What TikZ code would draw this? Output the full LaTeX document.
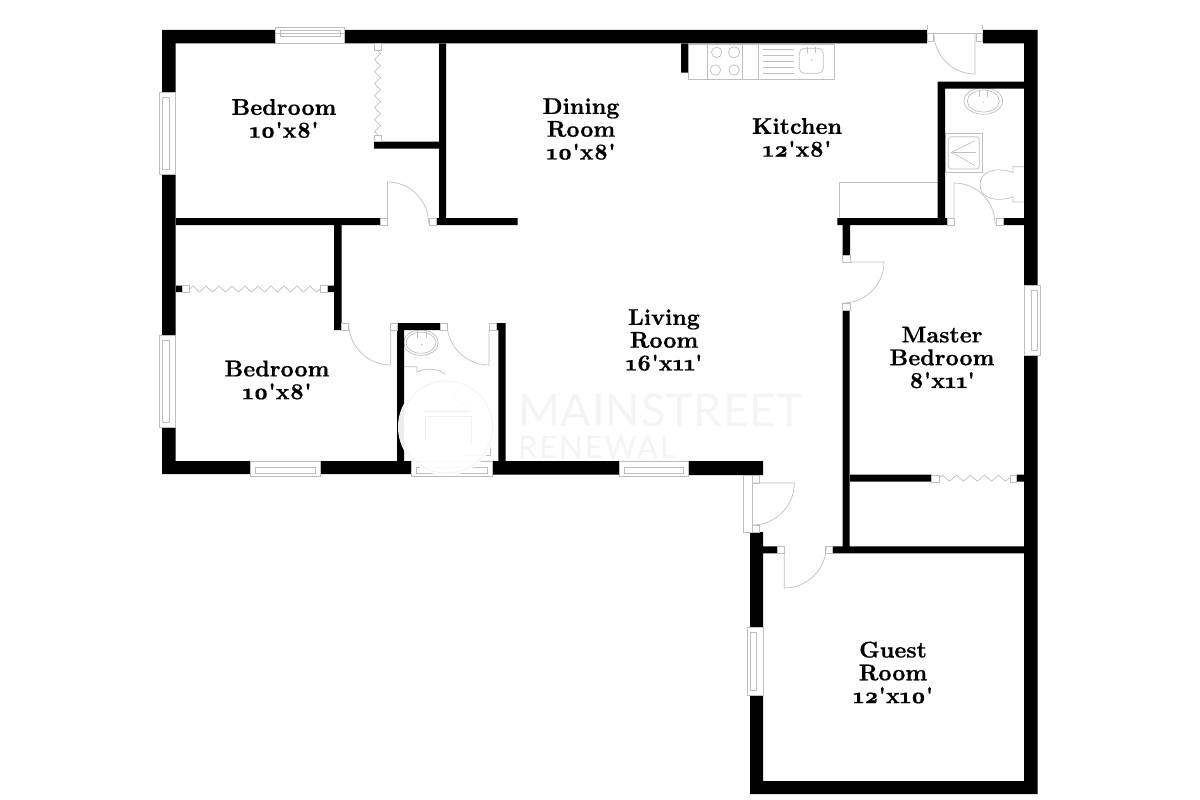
\documentclass[tikz,border=0pt]{standalone}
\usepackage{fontspec}
\usetikzlibrary{decorations.pathmorphing}
\newfontfamily\planfont{lmroman10-regular.otf}[BoldFont=lmroman10-bold.otf,BoldFeatures={FakeBold=0.6},Numbers=OldStyle]
\newfontfamily\brandfont{Lato}[LetterSpace=2]
\newfontfamily\brandwidefont{Lato}[LetterSpace=6]
\tikzset{
  wall/.style={fill=black},
  fixture/.style={draw=gray!50,line width=0.7pt},
  opening/.style={fixture,fill=white},
  foldingdoor/.style={fixture,decorate,decoration={zigzag,amplitude=3pt,segment length=#1}},
  roomlabel/.style={font=\planfont\bfseries\fontsize{22.8}{22.8}\selectfont,align=center,text=black,inner sep=0pt},
  brandmark/.style={text=gray!9,inner sep=0pt,anchor=west}
}
\begin{document}
\begin{tikzpicture}[x=1pt,y=-1pt]
      \useasboundingbox (0,0) rectangle (1200,800);
      \fill[white] (0,0) rectangle (1200,800);
      \begin{scope}[fixture]
        \draw (688,44) rectangle (834,79);
        \draw (707.3,44) -- (707.3,79);
        \draw (742.7,44) -- (742.7,79);
        \draw (758.7,44) -- (758.7,79);
        \draw (716.7,52.3) circle (5.2);
        \draw (734,52.3) circle (5.6);
        \draw (715.5,70) circle (5.2);
        \draw (734,70) circle (5.2);
        \draw (763,49) -- (794,49);
        \draw (763,55) -- (794,55);
        \draw (763,61) -- (794,61);
        \draw (763,67) -- (794,67);
        \draw (763,73) -- (794,73);
        \draw[rounded corners=5] (799.3,48.3) rectangle (823.3,73.3);
        \draw (807.3,46.7) -- (807.3,53);
        \draw (815,46.7) -- (815,53);
        \fill[gray!50] (811.7,60) circle (0.8);
        \draw (839,218) -- (839,182.7) -- (937.7,182.7);
        \draw (983.3,101) ellipse [x radius=19.3,y radius=13.3];
        \draw (983.3,101) ellipse [x radius=16,y radius=11];
        \draw (979.3,90) -- (979.3,97);
        \draw (987.3,90) -- (987.3,97);
        \fill[gray!50] (983.3,102.3) circle (0.8);
        \draw (945,133.3) rectangle (982.7,172.3);
        \draw[rounded corners=3] (948.3,136.7) rectangle (979.3,169);
        \draw (952.7,152.3) circle (1.2);
        \draw (954,151) -- (975,140.7);
        \draw (954,152.3) -- (976,152.3);
        \draw (954,153.6) -- (975,165.7);
        \draw (1024,166.7) -- (1013,166.7) -- (1013,172.5) .. controls (994,166) and (980,172) .. (980,185) .. controls (980,197) and (994,203) .. (1013,197) -- (1013,202) -- (1024,202);
        \draw (421,342.7) ellipse [x radius=17.3,y radius=12.7];
        \draw (421,342.7) ellipse [x radius=15,y radius=10.5];
        \draw (417.7,331) -- (417.7,338);
        \draw (426,331) -- (426,338);
        \fill[gray!50] (421.7,344.7) circle (0.8);
        \draw (404,366.7) -- (417,366.7) -- (417,372) .. controls (425,368) and (437,368) .. (445,374);
        \draw (465,455) -- (490,455) -- (490,447);
        \draw (452,395) -- (470,411);
      \end{scope}
      \fill[wall]
        (162,30) rectangle (275,43.5)
        (344,30) rectangle (927,43.5)
        (983,30) rectangle (1037.5,43.5)
        (162,30) rectangle (175.7,92)
        (162,174) rectangle (175.7,335)
        (162,427) rectangle (175.7,474)
        (162,461) rectangle (250,474)
        (320,461) rectangle (411,474)
        (492,461) rectangle (619,474.5)
        (688,461) rectangle (763,475)
        (1024,30) rectangle (1037.5,285)
        (1024,355) rectangle (1037.5,794)
        (750,781) rectangle (1037.5,794)
        (750,532) rectangle (763,627)
        (750,695) rectangle (763,794)
        (176,218) rectangle (380.7,225)
        (436.7,218) rectangle (517.7,225)
        (439,44) rectangle (446,225)
        (374,141.7) rectangle (439,148.7)
        (334,225) rectangle (341.7,330)
        (176,285.7) rectangle (182.7,292)
        (327,285.7) rectangle (334,292)
        (397,323) rectangle (440,330)
        (397,323) rectangle (404,461)
        (496,323) rectangle (505.7,330)
        (498.3,323) rectangle (505.7,461)
        (681,44) rectangle (688,72.7)
        (937.7,81.7) rectangle (1024,88.7)
        (937.7,82) rectangle (945,225)
        (837.3,218) rectangle (947.3,225)
        (1003,218) rectangle (1024,225)
        (842.7,225) rectangle (850,255)
        (842.7,310.7) rectangle (849.7,553)
        (850,474.7) rectangle (931.7,481.7)
        (1016.7,474.7) rectangle (1024,481.7)
        (832.7,546.3) rectangle (1024,553.3)
        (763,546.3) rectangle (777,553.3);
      \begin{scope}[opening]
        \draw (275,27.3) rectangle (344,43.5);
        \draw (280,30.7) rectangle (340,36.7);
        \draw (344,33.7) -- (275,33.7);
        \draw (159.3,92) rectangle (175.7,174);
        \draw (162.7,97) rectangle (169,169);
        \draw (159.3,335) rectangle (175.7,427);
        \draw (162.7,340) rectangle (169,422);
        \draw (250,461) rectangle (320,476.7);
        \draw (255,467.3) rectangle (315,473.3);
        \draw (411,461) rectangle (492,476.7);
        \draw (416,467.3) rectangle (487,473.3);
        \draw (619,461) rectangle (688,476.7);
        \draw (624,467.3) rectangle (683,473.3);
        \draw (1024,285) rectangle (1040,355);
        \draw (1031,290) rectangle (1037,350);
        \draw (747,627) rectangle (763,695);
        \draw (750,632) rectangle (756,690);
      \end{scope}
      \begin{scope}[fixture]
        \draw (927,25) -- (927,30);
        \draw (982.7,25) -- (982.7,30);
        \draw (933,33) -- (976,33);
        \draw (975,33) -- (975,74) arc[start angle=90,end angle=180,radius=41];
        \draw (387.5,218) -- (387.5,182) arc[start angle=-90,end angle=0,radius=41];
        \draw (390.7,330) -- (390.7,365) arc[start angle=90,end angle=180,radius=42];
        \draw (489,330) -- (489,365) arc[start angle=90,end angle=180,radius=42];
        \draw (850,262) -- (884,262) arc[start angle=0,end angle=90,radius=41];
        \draw (954,218) -- (954,183) arc[start angle=-90,end angle=0,radius=41];
        \draw (743.3,475.7) rectangle (752.3,532.3);
        \draw (752.3,483) -- (794.3,483) arc[start angle=0,end angle=90,radius=42];
        \draw (784.3,553) -- (784.3,588) arc[start angle=90,end angle=0,radius=42];
        \draw[foldingdoor=12] (377.5,50.7) -- (377.5,135);
        \draw[foldingdoor=13] (189.7,289) -- (320.7,289);
        \draw[foldingdoor=14] (939,478.2) -- (1010,478.2);
      \end{scope}
      \begin{scope}[opening]
        \draw (927,33) rectangle (933,41);
        \draw (976,33) rectangle (982.7,41);
        \draw (380.7,218) rectangle (387.7,225);
        \draw (429,218) rectangle (436.7,225);
        \draw (341.7,323) rectangle (348.7,330);
        \draw (390.7,323) rectangle (397.3,330);
        \draw (440,323) rectangle (447.3,330);
        \draw (489,323) rectangle (496,330);
        \draw (842.7,255) rectangle (850,262.3);
        \draw (842.7,303.3) rectangle (850,310.7);
        \draw (947.3,218) rectangle (954,225);
        \draw (996,218) rectangle (1003,225);
        \draw (752.3,475.7) rectangle (759.7,483.3);
        \draw (752.3,525) rectangle (759.7,532.3);
        \draw (777,546) rectangle (784.3,553.3);
        \draw (825.7,546) rectangle (832.7,553.3);
        \draw (374,43.7) rectangle (381,50.7);
        \draw (374,135) rectangle (381,141.7);
        \draw (182.7,285.7) rectangle (189.7,292);
        \draw (320.7,285.7) rectangle (327,292);
        \draw (931.7,475) rectangle (939,482);
        \draw (1010,475) rectangle (1016.7,482);
      \end{scope}
      \fill[white,opacity=0.93] (446.5,427) circle (48.5);
      \begin{scope}[draw=gray!12,line width=0.7pt]
        \draw (446.5,427) circle (46);
        \draw (425,411.7) -- (470,411.7);
        \draw (425,416.7) -- (471.7,416.7) -- (471.7,445);
        \draw (425,416.7) -- (425,440);
      \end{scope}
      \node[brandmark,font=\brandfont\fontsize{45}{45}\selectfont] (brandname) at (518,410) {MAINSTREET};
      \node[brandmark,font=\brandwidefont\fontsize{31}{31}\selectfont] (brandline) at (518,447.5) {RENEWAL};
      \node[roomlabel] (bedroomA) at (284,118.5) {Bedroom\\10'x8'};
      \node[roomlabel] (bedroomB) at (277,380) {Bedroom\\10'x8'};
      \node[roomlabel] (dining) at (581,129) {Dining\\Room\\10'x8'};
      \node[roomlabel] (kitchen) at (797,137.5) {Kitchen\\12'x8'};
      \node[roomlabel] (living) at (664,340) {Living\\Room\\16'x11'};
      \node[roomlabel] (master) at (942,357.5) {Master\\Bedroom\\8'x11'};
      \node[roomlabel] (guest) at (893,672.5) {Guest\\Room\\12'x10'};
    \end{tikzpicture}
\end{document}
